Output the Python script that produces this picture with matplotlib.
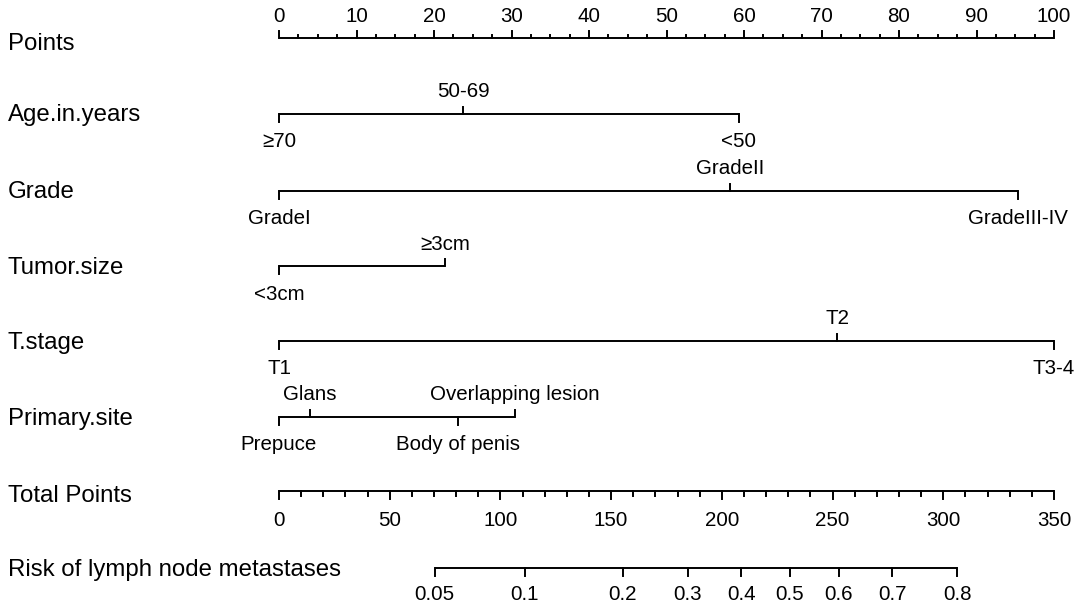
import numpy as np
import matplotlib
matplotlib.use("Agg")
import matplotlib.pyplot as plt
import matplotlib.transforms as mtransforms

plt.rcParams['font.family'] = ['Liberation Sans', 'DejaVu Sans']

# nomogram data
age_levels = ["≥70", "50-69", "<50"]
age_points = [0.0, 23.8, 59.3]
grade_levels = ["GradeI", "GradeII", "GradeIII-IV"]
grade_points = [0.0, 58.2, 95.3]
size_levels = ["<3cm", "≥3cm"]
size_points = [0.0, 21.4]
tstage_levels = ["T1", "T2", "T3-4"]
tstage_points = [0.0, 72.0, 100.0]
site_levels = ["Prepuce", "Glans", "Body of penis", "Overlapping lesion"]
site_points = [0.0, 4.0, 23.1, 30.4]

variables = [
    ("Age.in.years", age_levels, age_points),
    ("Grade", grade_levels, grade_points),
    ("Tumor.size", size_levels, size_points),
    ("T.stage", tstage_levels, tstage_points),
    ("Primary.site", site_levels, site_points),
]

points_ticks = list(range(0, 101, 10))
total_ticks = list(range(0, 351, 50))
total_max = 350
risk_ticks = [0.05, 0.1, 0.2, 0.3, 0.4, 0.5, 0.6, 0.7, 0.8]
risk_labels = ["0.05", "0.1", "0.2", "0.3", "0.4", "0.5", "0.6", "0.7", "0.8"]
# total points = lp_intercept + lp_slope * logit(risk)
lp_intercept = 230.8
lp_slope = 54.5

# layout (pixel rows, top to bottom)
row_y = [38, 113.5, 190.5, 266, 341, 416.5, 491, 568]
LW = 1.4
FS_ROW = 17.3
FS_VAL = 14.8

fig = plt.figure(figsize=(10.84, 6.10), dpi=100)
ax = fig.add_axes([279 / 1084, 0, 775 / 1084, 1])
ax.set_xlim(0, 100)
ax.set_ylim(610, 0)
ax.axis("off")
lab_tr = mtransforms.blended_transform_factory(fig.transFigure, ax.transData)

def tp2p(tp):
    return np.asarray(tp, dtype=float) * 100.0 / total_max

# Points axis
y0 = row_y[0]
ax.plot([0, 100], [y0, y0], color="black", lw=LW, solid_capstyle="butt")
for p in np.arange(0, 100.01, 2.5):
    major = abs(p % 10) < 1e-9
    ax.plot([p, p], [y0, y0 - (7 if major else 3.5)], color="black", lw=LW)
for p in points_ticks:
    ax.text(p, y0 - 22, str(p), ha="center", va="center", fontsize=FS_VAL)
ax.text(8 / 1084, y0 + 6, "Points", transform=lab_tr, ha="left", va="center", fontsize=FS_ROW)

# variable rows
for (name, levels, pts), y in zip(variables, row_y[1:6]):
    ax.plot([min(pts), max(pts)], [y, y], color="black", lw=LW, solid_capstyle="butt")
    order = np.argsort(pts)
    for k, i in enumerate(order):
        below = (k % 2 == 0)
        p = pts[i]
        ax.plot([p, p], [y, y + 8 if below else y - 7], color="black", lw=LW)
        ax.text(p, y + 28 if below else y - 22, levels[i], ha="center", va="center", fontsize=FS_VAL)
    ax.text(8 / 1084, y + 2, name, transform=lab_tr, ha="left", va="center", fontsize=FS_ROW)

# Total Points axis
y6 = row_y[6]
ax.plot([0, 100], [y6, y6], color="black", lw=LW, solid_capstyle="butt")
for tp in range(0, total_max + 1, 10):
    major = tp % 50 == 0
    ax.plot([tp2p(tp)] * 2, [y6, y6 + (8 if major else 5)], color="black", lw=LW)
for tp in total_ticks:
    ax.text(tp2p(tp), y6 + 29, str(tp), ha="center", va="center", fontsize=FS_VAL)
ax.text(8 / 1084, y6 + 5, "Total Points", transform=lab_tr, ha="left", va="center", fontsize=FS_ROW)

# Risk axis
y7 = row_y[7]
r = np.array(risk_ticks)
risk_pos = tp2p(lp_intercept + lp_slope * np.log(r / (1 - r)))
ax.plot([risk_pos.min(), risk_pos.max()], [y7, y7], color="black", lw=LW, solid_capstyle="butt")
for xp, lab in zip(risk_pos, risk_labels):
    ax.plot([xp, xp], [y7, y7 + 8], color="black", lw=LW)
    ax.text(xp, y7 + 27, lab, ha="center", va="center", fontsize=FS_VAL)
ax.text(8 / 1084, y7 + 2, "Risk of lymph node metastases", transform=lab_tr, ha="left", va="center", fontsize=FS_ROW)

for ln in ax.lines:
    ln.set_clip_on(False)
for t in ax.texts:
    t.set_clip_on(False)

fig.savefig("out.png", dpi=100, facecolor="white")
